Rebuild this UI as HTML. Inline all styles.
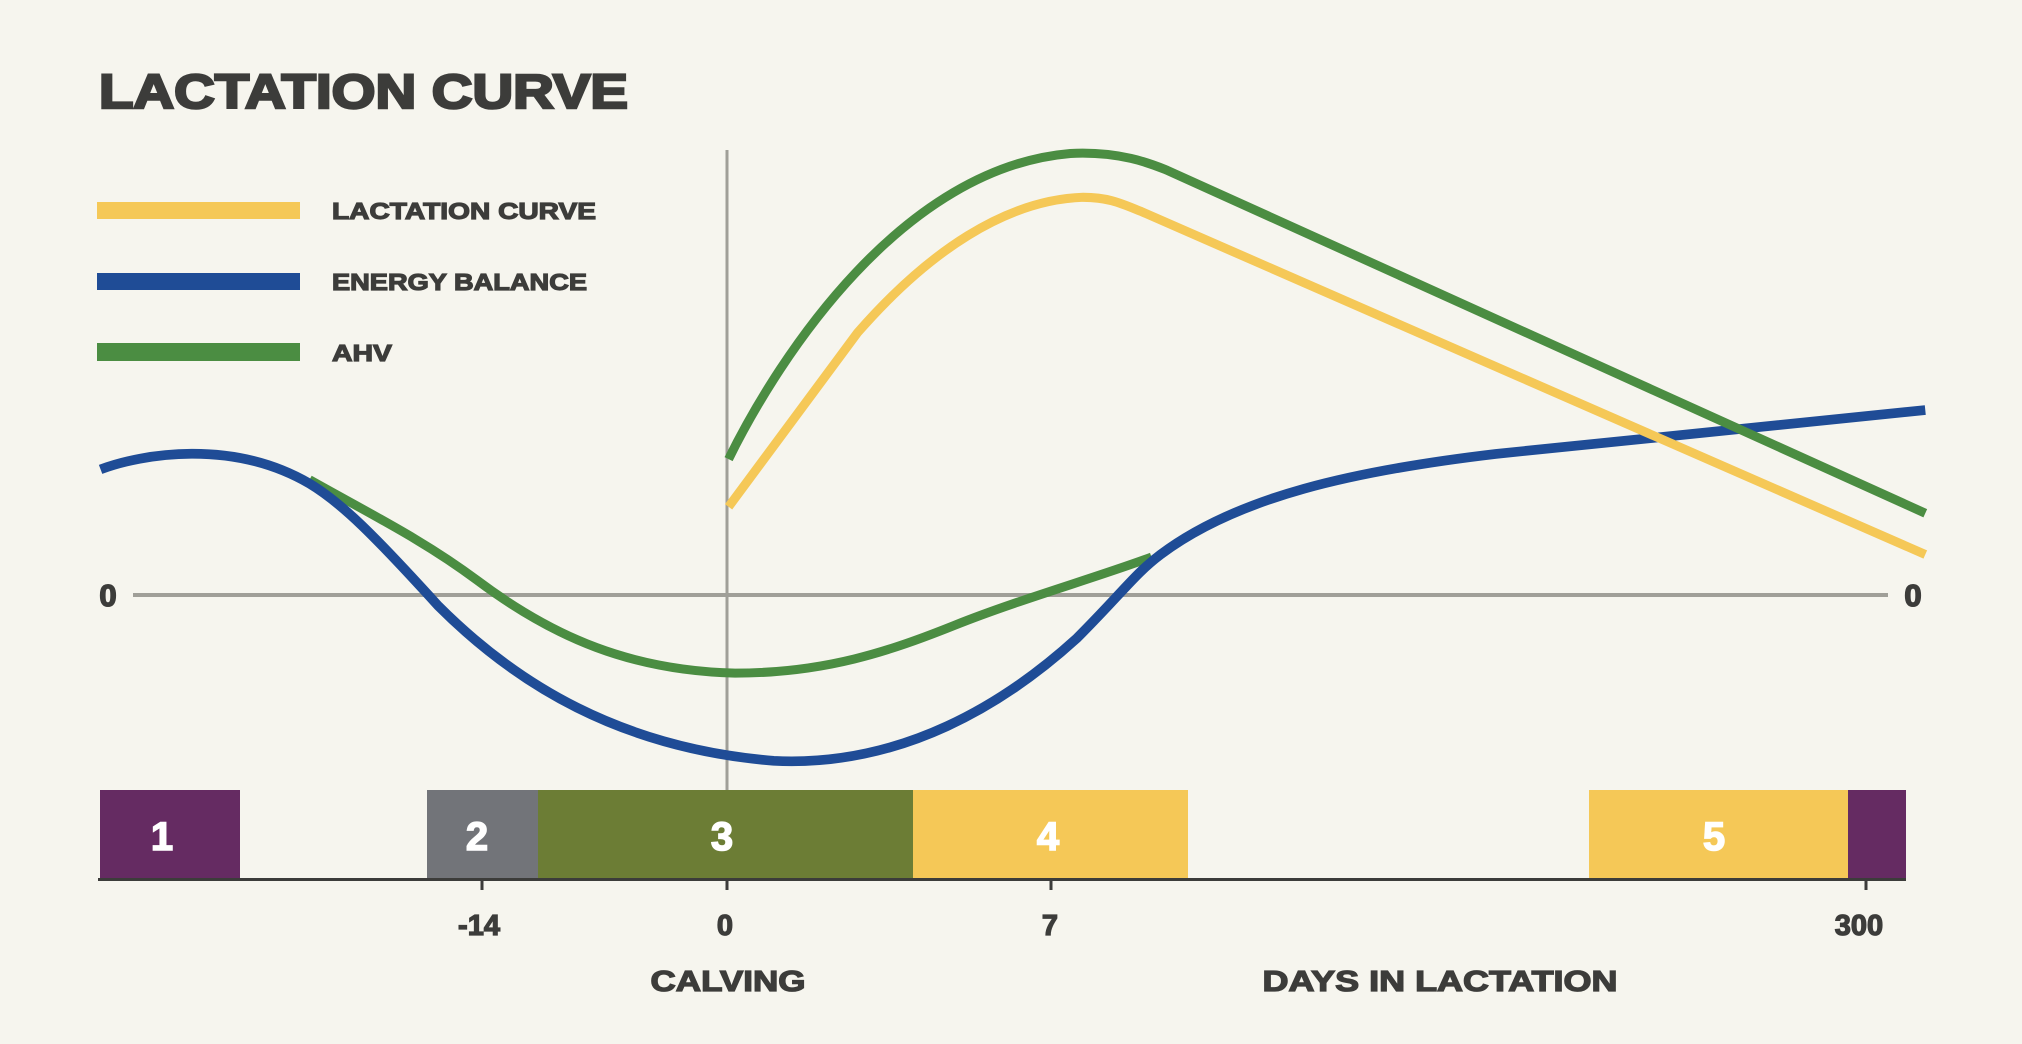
<!DOCTYPE html>
<html><head><meta charset="utf-8"><style>
html,body{margin:0;padding:0;background:#f6f5ee;}
svg{display:block;}
text{font-family:"Liberation Sans",sans-serif;font-weight:bold;}
</style></head><body>
<svg width="2022" height="1044" viewBox="0 0 2022 1044" xmlns="http://www.w3.org/2000/svg">
<rect width="2022" height="1044" fill="#f6f5ee"/>
<text x="99" y="108" font-size="48" fill="#3c3c3a" stroke="#3c3c3a" stroke-width="2.5" textLength="529" lengthAdjust="spacingAndGlyphs">LACTATION CURVE</text>
<rect x="97" y="202" width="203" height="17" fill="#f5c857"/>
<rect x="97" y="273" width="203" height="17" fill="#1f4c96"/>
<rect x="97" y="343" width="203" height="18" fill="#4b8d42"/>
<g fill="#3c3c3a" stroke="#3c3c3a" stroke-width="1.2" font-size="23">
<text x="332" y="219" textLength="264" lengthAdjust="spacingAndGlyphs">LACTATION CURVE</text>
<text x="332" y="290" textLength="255" lengthAdjust="spacingAndGlyphs">ENERGY BALANCE</text>
<text x="332" y="361" textLength="60" lengthAdjust="spacingAndGlyphs">AHV</text>
</g>
<line x1="727" y1="150" x2="727" y2="790" stroke="#a09f98" stroke-width="3"/>
<line x1="133" y1="595" x2="1888" y2="595" stroke="#a09f98" stroke-width="4"/>
<g font-size="31" fill="#3c3c3a" stroke="#3c3c3a" stroke-width="1.5" text-anchor="middle">
<text x="108" y="606">0</text>
<text x="1913" y="606">0</text>
</g>
<g transform="scale(1.28954)" fill="none" stroke-width="7">
<path d="M240,372 C290,400 330,420 370,450 C430,495 490,520 570,522 C640,522 690,505 740,485 C790,465 850,448 893,432" stroke="#4b8d42"/>
<path d="M78,364 C110,352 180,340 240,375 C265,390 290,415 340,470 C400,530 480,580 600,590 C700,595 780,545 835,495 C870,460 880,445 900,430 C960,385 1050,365 1160,352 L1493,318" stroke="#1f4c96" stroke-width="7.5"/>
<path d="M565,393 L665,258 C720,195 780,155 840,153 C860,153 870,158 885,164 L1493,430" stroke="#f5c857"/>
<path d="M565,356 C605,275 700,130 830,119 C870,117 895,128 905,132 L1493,398" stroke="#4b8d42"/>
</g>
<rect x="100" y="790" width="140" height="88" fill="#652b62"/>
<rect x="427" y="790" width="111" height="88" fill="#727479"/>
<rect x="538" y="790" width="375" height="88" fill="#6c7d35"/>
<rect x="913" y="790" width="275" height="88" fill="#f5c857"/>
<rect x="1589" y="790" width="259" height="88" fill="#f5c857"/>
<rect x="1848" y="790" width="58" height="88" fill="#652b62"/>
<g font-size="40" fill="#ffffff" stroke="#ffffff" stroke-width="1.5" text-anchor="middle">
<text x="162" y="850">1</text><text x="477" y="850">2</text><text x="722" y="850">3</text><text x="1048" y="850">4</text><text x="1714" y="850">5</text>
</g>
<line x1="98" y1="879.5" x2="1906" y2="879.5" stroke="#3c3c3a" stroke-width="3"/>
<g stroke="#3c3c3a" stroke-width="3">
<line x1="482" y1="879" x2="482" y2="890"/><line x1="727" y1="879" x2="727" y2="890"/>
<line x1="1051" y1="879" x2="1051" y2="890"/><line x1="1866" y1="879" x2="1866" y2="890"/>
</g>
<g font-size="29" fill="#3c3c3a" stroke="#3c3c3a" stroke-width="1.3" text-anchor="middle">
<text x="479" y="935">-14</text><text x="725" y="935">0</text><text x="1050" y="935">7</text><text x="1859" y="935">300</text>
<text x="728" y="991" textLength="155" lengthAdjust="spacingAndGlyphs">CALVING</text>
<text x="1440" y="991" textLength="355" lengthAdjust="spacingAndGlyphs">DAYS IN LACTATION</text>
</g>
</svg>
</body></html>
